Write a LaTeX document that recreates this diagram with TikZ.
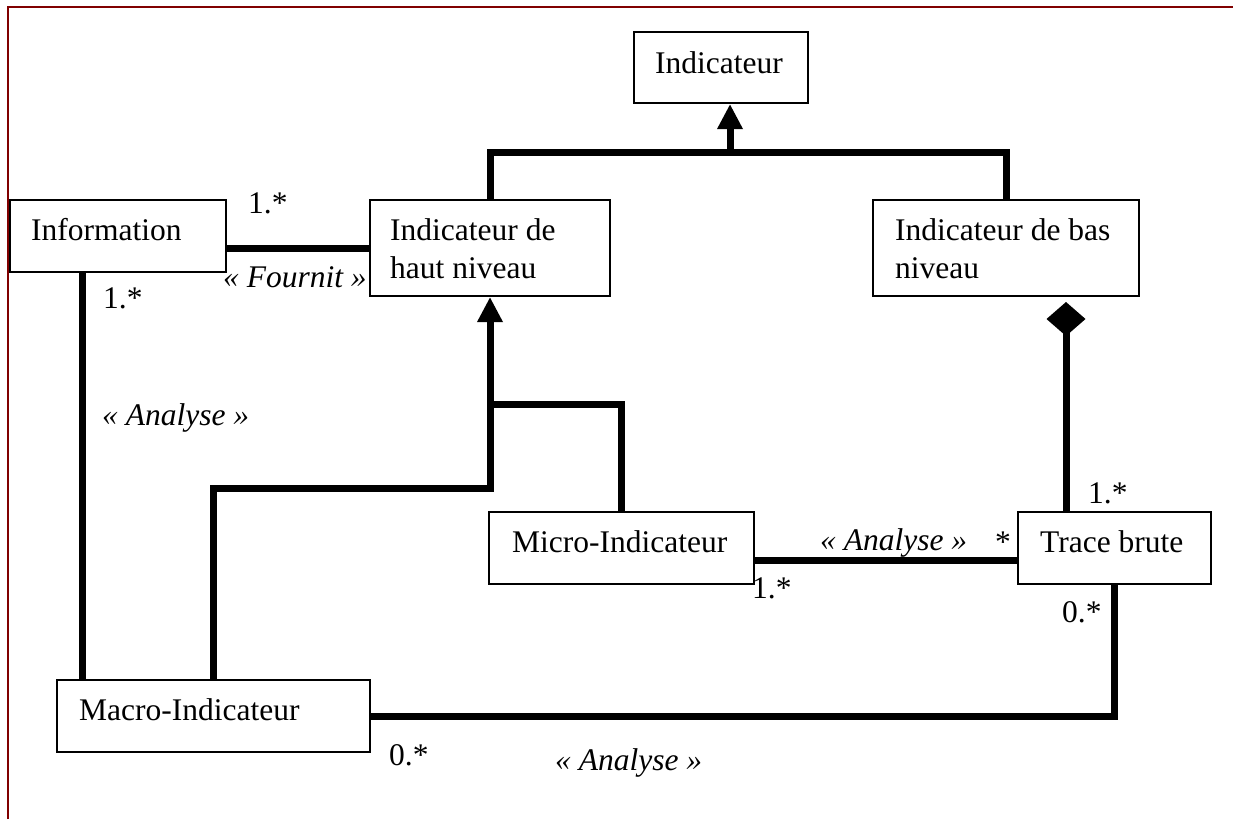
\documentclass[tikz,border=0pt]{standalone}
\usepackage{fontspec}
\setmainfont{Liberation Serif}
\usetikzlibrary{arrows.meta}
\definecolor{framered}{HTML}{800000}
\newcommand{\diagfont}{\fontsize{31.5}{37.5}\selectfont}
\tikzset{
  classbox/.style={draw=black, line width=2pt, fill=white, inner sep=0pt},
  txt/.style={anchor=base west, inner sep=0pt, font=\diagfont},
  txttwo/.style={anchor=north west, inner sep=0pt, align=left, font=\diagfont},
  lbl/.style={anchor=base west, inner sep=0pt, font=\diagfont},
  stereo/.style={anchor=base west, inner sep=0pt, font=\diagfont\itshape},
  conn/.style={draw=black, line width=7pt, line join=miter},
  genarrow/.style={-{Triangle[length=25pt,width=24pt]}},
  comparrow/.style={-{Diamond[length=34pt,width=39pt]}},
}
\begin{document}
\begin{tikzpicture}[x=1pt,y=-1pt]
\useasboundingbox (0,0) rectangle (1233,819);
% frame
\draw[framered, line width=2pt] (8,819) -- (8,7) -- (1233,7);

% class boxes
\node[classbox, minimum width=174pt, minimum height=71pt] (ind)   at (721,67.5) {};
\node[classbox, minimum width=216pt, minimum height=72pt] (info)  at (118,236) {};
\node[classbox, minimum width=240pt, minimum height=96pt] (haut)  at (490,248) {};
\node[classbox, minimum width=266pt, minimum height=96pt] (bas)   at (1006,248) {};
\node[classbox, minimum width=265pt, minimum height=72pt] (micro) at (621.5,548) {};
\node[classbox, minimum width=193pt, minimum height=72pt] (trace) at (1114.5,548) {};
\node[classbox, minimum width=313pt, minimum height=72pt] (macro) at (213.5,716) {};

% class names
\node[txt] (t-ind) at (655,73) {Indicateur};
\node[txt] (t-info) at (31,240) {Information};
\node[txttwo] (t-haut) at (390,218.5) {Indicateur de\\haut niveau};
\node[txttwo] (t-bas) at (895,218.5) {Indicateur de bas\\niveau};
\node[txt] (t-micro) at (512,552) {Micro-Indicateur};
\node[txt] (t-trace) at (1040,552) {Trace brute};
\node[txt] (t-macro) at (79,720) {Macro-Indicateur};

% junction coordinates
\coordinate (jtop) at (730,152);
\coordinate (jmid) at (490,404);
\coordinate (jlow) at (490,488);

% generalisation to Indicateur
\draw[conn] (haut.north) |- (jtop) -| (bas.north);
\draw[conn, genarrow] (jtop) -- (jtop |- ind.south);

% generalisation to Indicateur de haut niveau
\draw[conn] (micro.north) |- (jmid);
\draw[conn, genarrow] (macro.north) |- (jlow) -- (haut.south);

% associations
\draw[conn] (haut.west -| info.east) -- (haut.west);
\draw[conn] ([xshift=-36pt]info.south) -- ([xshift=-36pt]info.south |- macro.north);
\draw[conn] ([yshift=-12pt]micro.east) -- ([yshift=-12pt]micro.east -| trace.west);
\draw[conn] (macro.east) -| (trace.south);

% composition
\draw[conn, comparrow, shorten >=5pt] ([xshift=-48.5pt]trace.north) -- ([xshift=-48.5pt]trace.north |- bas.south);

% multiplicities and stereotypes
\node[lbl] (m1) at (248,213) {1.*};
\node[stereo] (s-fournit) at (223,287) {«~Fournit~»};
\node[lbl] (m2) at (103,308) {1.*};
\node[stereo] (s-an1) at (102,425) {«~Analyse~»};
\node[lbl] (m3) at (752,598) {1.*};
\node[stereo] (s-an2) at (820,550) {«~Analyse~»};
\node[lbl] (m4) at (995,552) {*};
\node[lbl] (m5) at (1088,503) {1.*};
\node[lbl] (m6) at (1062,622) {0.*};
\node[lbl] (m7) at (389,765) {0.*};
\node[stereo] (s-an3) at (555,770) {«~Analyse~»};
\end{tikzpicture}
\end{document}
